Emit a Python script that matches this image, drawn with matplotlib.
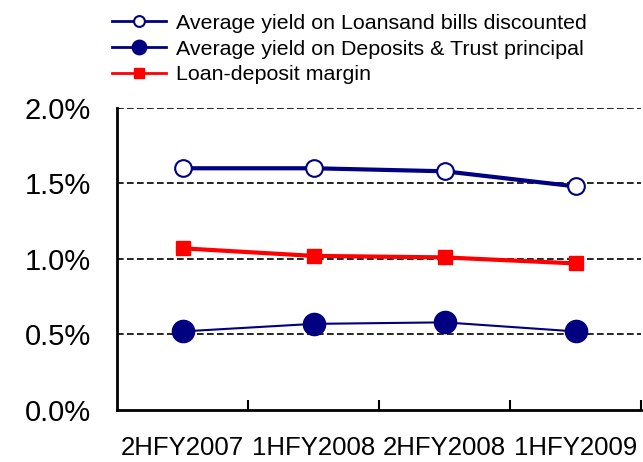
import matplotlib
matplotlib.use("Agg")
import matplotlib.pyplot as plt
from matplotlib.ticker import FuncFormatter

plt.rcParams["font.family"] = ["Liberation Sans", "DejaVu Sans"]

periods = ["2HFY2007", "1HFY2008", "2HFY2008", "1HFY2009"]
loans_yield = [1.60, 1.60, 1.58, 1.48]
deposits_yield = [0.52, 0.57, 0.58, 0.52]
margin = [1.07, 1.02, 1.01, 0.97]

navy = "#000080"

fig = plt.figure(figsize=(6.43, 4.62), dpi=100)
ax = fig.add_axes([0.182, 0.1126, 0.815, 0.654])

x = range(len(periods))
ax.plot(x, loans_yield, color=navy, lw=3, marker="o", ms=12,
        mfc="white", mec=navy, mew=1.5,
        label="Average yield on Loansand bills discounted", zorder=3)
ax.plot(x, deposits_yield, color=navy, lw=1.5, marker="o", ms=16,
        mfc=navy, mec=navy,
        label="Average yield on Deposits & Trust principal", zorder=3)
ax.plot(x, margin, color="red", lw=3, marker="s", ms=10,
        mfc="red", mec="red",
        label="Loan-deposit margin", zorder=3)

ax.set_xlim(-0.5, 3.5)
ax.set_ylim(0, 2.0)
ax.set_yticks([0, 0.5, 1.0, 1.5, 2.0])
ax.yaxis.set_major_formatter(FuncFormatter(lambda v, p: f"{v:.1f}%"))
ax.set_xticks(list(x))
ax.set_xticklabels(periods)
ax.set_xticks([0.5, 1.5, 2.5, 3.5], minor=True)
ax.tick_params(axis="x", which="major", length=0, pad=19, labelsize=18.5)
ax.tick_params(axis="x", which="minor", length=7, width=1.5, direction="in")
ax.tick_params(axis="y", length=0, pad=19, labelsize=21)

# dashed horizontal gridlines
for y in [0.5, 1.0, 1.5, 2.0]:
    ax.axhline(y, color="black", lw=1.2, ls=(0, (4, 2)), zorder=1)

for s in ["top", "right"]:
    ax.spines[s].set_visible(False)
for s in ["left", "bottom"]:
    ax.spines[s].set_linewidth(2)

handles, labels = ax.get_legend_handles_labels()
leg = fig.legend(handles, labels, loc="upper left", bbox_to_anchor=(0.145, 1.012),
                 frameon=False, fontsize=15.4, markerscale=0.65, handlelength=2.5,
                 handletextpad=0.45, labelspacing=0.32)
for line in leg.get_lines():
    line.set_linewidth(2)

fig.savefig("out.png", dpi=100)
